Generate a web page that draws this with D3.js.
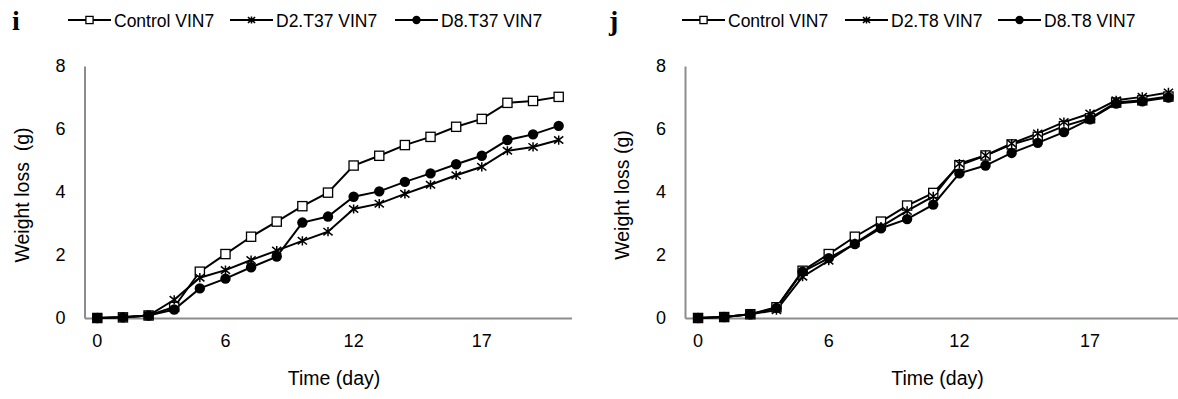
<!DOCTYPE html>
<html>
<head>
<meta charset="utf-8">
<script src="https://cdn.jsdelivr.net/npm/d3@7"></script>
<style>
  body { margin: 0; background: #fff; }
  svg { display: block; font-family: "Liberation Sans", Arial, sans-serif; }
</style>
</head>
<body>
<svg id="chart" width="1178" height="399"></svg>
<script>
// categories (days) - Excel category axis, label shown on every 5th
const days = ["0", "1", "2", "3", "5", "6", "7", "8", "9", "10", "12", "13", "14", "15", "16", "17", "18", "19", "20"];
const yTicks = [0, 2, 4, 6, 8];

// panel i
const controlI = [0, 0.02, 0.08, 0.35, 1.47, 2.03, 2.58, 3.06, 3.55, 3.98, 4.84, 5.15, 5.49, 5.75, 6.07, 6.32, 6.83, 6.89, 7.02];
const d2T37 = [0, 0.02, 0.08, 0.58, 1.28, 1.52, 1.84, 2.14, 2.45, 2.74, 3.46, 3.63, 3.94, 4.23, 4.53, 4.80, 5.31, 5.43, 5.65];
const d8T37 = [0, 0.02, 0.08, 0.27, 0.94, 1.25, 1.61, 1.95, 3.03, 3.22, 3.85, 4.02, 4.32, 4.59, 4.88, 5.15, 5.65, 5.83, 6.10];

// panel j
const controlJ = [0, 0.03, 0.12, 0.34, 1.50, 2.03, 2.58, 3.06, 3.57, 3.97, 4.85, 5.16, 5.51, 5.75, 6.09, 6.34, 6.84, 6.91, 7.03];
const d2T8 = [0, 0.03, 0.12, 0.25, 1.31, 1.82, 2.37, 2.90, 3.40, 3.86, 4.90, 5.16, 5.54, 5.86, 6.22, 6.49, 6.91, 7.02, 7.16];
const d8T8 = [0, 0.03, 0.12, 0.32, 1.47, 1.90, 2.35, 2.85, 3.14, 3.60, 4.59, 4.84, 5.24, 5.56, 5.90, 6.31, 6.81, 6.88, 7.00];

const svg = d3.select("#chart");

// marker drawing helpers
function drawMarker(g, type, cx, cy, s) {
    if (type === "square") {
        g.append("rect")
            .attr("x", cx - s).attr("y", cy - s)
            .attr("width", 2 * s).attr("height", 2 * s)
            .attr("fill", "#fff").attr("stroke", "#000").attr("stroke-width", 1.3);
    } else if (type === "star") {
        let d = `M${cx},${cy - s}L${cx},${cy + s}` +
                `M${cx - s},${cy - s * 0.8}L${cx + s},${cy + s * 0.8}` +
                `M${cx - s},${cy + s * 0.8}L${cx + s},${cy - s * 0.8}`;
        g.append("path").attr("d", d).attr("stroke", "#000").attr("stroke-width", 1.5).attr("fill", "none");
    } else {
        g.append("circle").attr("cx", cx).attr("cy", cy).attr("r", s)
            .attr("fill", "#000");
    }
}

function panel(opts) {
    const x = d3.scaleBand().domain(days).range([opts.left, opts.right]).padding(0);
    const y = d3.scaleLinear().domain([0, 8]).range([318, 66]);
    const cx = (i) => x(days[i]) + x.bandwidth() / 2;

    const g = svg.append("g");

    // axes
    const xAxis = d3.axisBottom(x)
        .tickValues(days.filter((d, i) => i % 5 === 0))
        .tickSize(0).tickSizeOuter(0).tickPadding(16);
    const gx = g.append("g").attr("transform", `translate(0,${y(0)})`).call(xAxis);
    gx.select(".domain").attr("stroke", "#8c8c8c").attr("stroke-width", 2);
    gx.selectAll("text").attr("font-size", 18).attr("fill", "#000")
        .attr("font-family", "Liberation Sans, Arial, sans-serif");

    const yAxis = d3.axisLeft(y).tickValues(yTicks).tickSize(0).tickSizeOuter(0).tickPadding(19);
    const gy = g.append("g").attr("transform", `translate(${opts.left},0)`).call(yAxis);
    gy.select(".domain").attr("stroke", "#8c8c8c").attr("stroke-width", 2);
    gy.selectAll("text").attr("font-size", 18).attr("fill", "#000")
        .attr("font-family", "Liberation Sans, Arial, sans-serif");

    // titles
    g.append("text")
        .attr("transform", `translate(${opts.left - 56},${(y(0) + y(8)) / 2 + 3}) rotate(-90)`)
        .attr("text-anchor", "middle").attr("font-size", 19.5)
        .style("white-space", "pre")
        .text(opts.yTitle);
    g.append("text")
        .attr("x", (opts.left + Math.min(opts.right, 1178)) / 2 + 6).attr("y", 385)
        .attr("text-anchor", "middle").attr("font-size", 19.5)
        .text("Time (day)");

    // series
    const line = d3.line().x((d, i) => cx(i)).y((d) => y(d));
    opts.series.forEach((s) => {
        g.append("path").datum(s.values)
            .attr("d", line).attr("fill", "none")
            .attr("stroke", "#000").attr("stroke-width", 2);
    });
    opts.series.forEach((s) => {
        s.values.forEach((v, i) => drawMarker(g, s.marker, cx(i), y(v), s.marker === "circle" ? 5.2 : 4.6));
    });

    // panel letter
    g.append("text").attr("x", opts.letterX).attr("y", 30)
        .attr("font-family", "Liberation Serif, Times New Roman, serif")
        .attr("font-weight", "bold").attr("font-size", 28).text(opts.letter);

    // legend
    const leg = g.append("g");
    opts.series.forEach((s, k) => {
        const lx = opts.legendX[k];
        leg.append("line").attr("x1", lx).attr("x2", lx + 43).attr("y1", 20).attr("y2", 20)
            .attr("stroke", "#000").attr("stroke-width", 2);
        drawMarker(leg, s.marker, lx + 21.5, 20, s.marker === "circle" ? 4.2 : 3.6);
        leg.append("text").attr("x", lx + 46).attr("y", 26.5)
            .attr("font-size", 17.5).text(s.name);
    });
}

panel({
    left: 84.5, right: 571.5, letter: "i", letterX: 12,
    yTitle: "Weight loss  (g)",
    legendX: [68, 230, 395],
    series: [
        { name: "Control VIN7", values: controlI, marker: "square" },
        { name: "D2.T37 VIN7", values: d2T37, marker: "star" },
        { name: "D8.T37 VIN7", values: d8T37, marker: "circle" }
    ]
});

panel({
    left: 685, right: 1181.5, letter: "j", letterX: 609,
    yTitle: "Weight loss (g)",
    legendX: [682, 845, 998],
    series: [
        { name: "Control VIN7", values: controlJ, marker: "square" },
        { name: "D2.T8 VIN7", values: d2T8, marker: "star" },
        { name: "D8.T8 VIN7", values: d8T8, marker: "circle" }
    ]
});
</script>
</body>
</html>
